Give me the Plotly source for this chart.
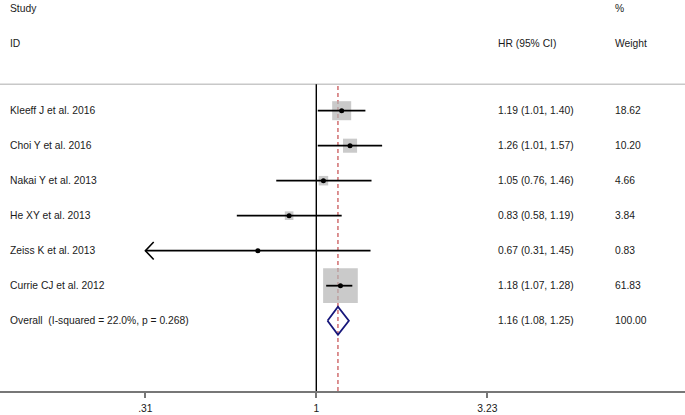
import math
import plotly.graph_objects as go

# ---- data ----
studies = ["Kleeff J et al. 2016", "Choi Y et al. 2016", "Nakai Y et al. 2013",
           "He XY et al. 2013", "Zeiss K et al. 2013", "Currie CJ et al. 2012"]
hr = [1.19, 1.26, 1.05, 0.83, 0.67, 1.18]
ci_low = [1.01, 1.01, 0.76, 0.58, 0.31, 1.07]
ci_high = [1.40, 1.57, 1.46, 1.19, 1.45, 1.28]
weights = [18.62, 10.20, 4.66, 3.84, 0.83, 61.83]

overall_label = "Overall  (I-squared = 22.0%, p = 0.268)"
overall_hr = 1.16
overall_low = 1.08
overall_high = 1.25
overall_weight = 100.00

tick_vals = [0.31, 1, 3.23]
tick_text = [".31", "1", "3.23"]

# ---- geometry ----
W, H = 685, 415
MB = 24
PH = H - MB                 # plot height in px
ROW0_PX = 110.7             # px of first row centre
ROW_STEP = 35.0             # px between rows
PX_PER_DEC = 336.0
X1_PX = 316.3               # px of HR = 1


def row_of_px(px):
    return 1 + (px - ROW0_PX) / ROW_STEP


rows = list(range(1, len(studies) + 1))
overall_row = len(studies) + 1

FONT = "Liberation Sans, Arial, Helvetica, sans-serif"
FS = 10.3
TXT = "#1a1a1a"

fig = go.Figure()

# weight boxes
fig.add_trace(go.Scatter(
    x=hr, y=rows, mode="markers",
    marker=dict(symbol="square", color="#b4b4b4",
                size=[4.41 * math.sqrt(w) for w in weights], line=dict(width=0)),
    hoverinfo="skip", showlegend=False))

# CI lines
xs, ys = [], []
for r, lo, hi in zip(rows, ci_low, ci_high):
    xs += [lo, hi, None]
    ys += [r, r, None]
fig.add_trace(go.Scatter(x=xs, y=ys, mode="lines",
                         line=dict(color="black", width=1.8),
                         hoverinfo="skip", showlegend=False))

# arrow for CI truncated at the axis limit
ax_, ay_ = [], []
f = 10 ** (8.3 / PX_PER_DEC)
for r, lo in zip(rows, ci_low):
    if lo <= min(tick_vals):
        ax_ += [lo * f, lo, lo * f, None]
        ay_ += [r - 0.25, r, r + 0.25, None]
fig.add_trace(go.Scatter(x=ax_, y=ay_, mode="lines",
                         line=dict(color="black", width=1.6),
                         hoverinfo="skip", showlegend=False))

# point estimates
fig.add_trace(go.Scatter(x=hr, y=rows, mode="markers",
                         marker=dict(color="black", size=5),
                         hoverinfo="skip", showlegend=False))

# overall diamond
dh = 14 / ROW_STEP
fig.add_trace(go.Scatter(
    x=[overall_low, overall_hr, overall_high, overall_hr, overall_low],
    y=[overall_row, overall_row - dh, overall_row, overall_row + dh, overall_row],
    mode="lines", line=dict(color="#16167a", width=1.8),
    hoverinfo="skip", showlegend=False))

sep_row = row_of_px(84.3)
sep_paper = 1 - 84.3 / PH

shapes = [
    # separator line
    dict(type="line", xref="paper", yref="y", x0=0, x1=1, y0=sep_row, y1=sep_row,
         line=dict(color="#c8c8c8", width=1.5), layer="below"),
    # null line
    dict(type="line", xref="x", yref="paper", x0=1, x1=1, y0=0, y1=sep_paper,
         line=dict(color="black", width=1.4), layer="below"),
    # overall effect line
    dict(type="line", xref="x", yref="paper", x0=overall_hr, x1=overall_hr,
         y0=0, y1=sep_paper,
         line=dict(color="#c0393b", width=1.1, dash="4px,3px"), layer="below"),
]

ann = []


def add_text(xpx, row, text):
    ann.append(dict(x=xpx / W, xref="paper", y=row, yref="y", text=text,
                    showarrow=False, xanchor="left", yanchor="middle",
                    font=dict(family=FONT, size=FS, color=TXT)))


add_text(8, row_of_px(8), "Study")
add_text(8, row_of_px(43), "ID")
add_text(495.5, row_of_px(43), "HR (95% CI)")
add_text(613, row_of_px(8), "%")
add_text(613, row_of_px(43), "Weight")

for r, s, h, lo, hi, w in zip(rows, studies, hr, ci_low, ci_high, weights):
    add_text(8, r, s)
    add_text(495.5, r, f"{h:.2f} ({lo:.2f}, {hi:.2f})")
    add_text(613, r, f"{w:.2f}")

add_text(8, overall_row, overall_label)
add_text(495.5, overall_row, f"{overall_hr:.2f} ({overall_low:.2f}, {overall_high:.2f})")
add_text(613, overall_row, f"{overall_weight:.2f}")

x_left = -X1_PX / PX_PER_DEC
x_right = (W - X1_PX) / PX_PER_DEC

fig.update_layout(
    width=W, height=H,
    margin=dict(l=0, r=0, t=0, b=MB, pad=0),
    paper_bgcolor="white", plot_bgcolor="white",
    shapes=shapes, annotations=ann,
    xaxis=dict(type="log", range=[x_left, x_right], showgrid=False, zeroline=False,
               showline=True, linecolor="#777777", linewidth=2,
               ticks="outside", ticklen=5, tickwidth=1.5, tickcolor="#777777",
               tickvals=tick_vals, ticktext=tick_text, ticklabelstandoff=2,
               tickfont=dict(family=FONT, size=FS, color=TXT), fixedrange=True),
    yaxis=dict(visible=False, range=[row_of_px(PH), row_of_px(0)], fixedrange=True),
    font=dict(family=FONT, size=FS, color=TXT),
)

fig.write_html("out.html", config={"displayModeBar": False},
               post_script="document.body.style.margin='0';document.body.style.padding='0';document.body.style.overflow='hidden';")
